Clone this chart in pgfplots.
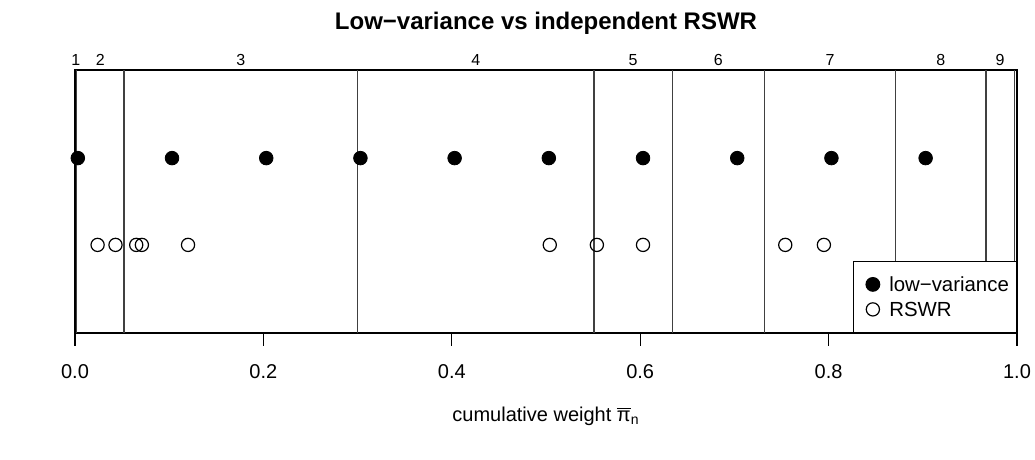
\documentclass[border=0pt]{standalone}
\usepackage{fontspec}
\setmainfont{Liberation Sans}
\usepackage{pgfplots}
\pgfplotsset{compat=1.18}

\begin{document}
\begin{tikzpicture}
\begin{axis}[
  at={(0,0)}, anchor=south west,
  scale only axis, width=471pt, height=131.5pt,
  xmin=0, xmax=1, ymin=0, ymax=1,
  ytick=\empty,
  xtick={0,0.2,0.4,0.6,0.8,1},
  xticklabels={0.0,0.2,0.4,0.6,0.8,1.0},
  xtick pos=bottom,
  xtick align=outside,
  xmajorticks=true,
  major tick length=6.3pt,
  xtick style={draw=black, line width=0.6pt},
  axis line style={black, line width=0.6pt},
  xticklabel style={font=\fontsize{10}{12}\selectfont, anchor=base, yshift=-16.35pt},
  xlabel={cumulative weight \(\overline{\hbox{π}}_{\hbox{\fontsize{7}{8}\selectfont n}}\)},
  xlabel style={font=\fontsize{10}{12}\selectfont, at={(axis description cs:0.5,0)},
    anchor=base, yshift=-44.5pt},
  title={Low−variance vs independent RSWR},
  title style={font=\bfseries\fontsize{12}{14}\selectfont, at={(axis description cs:0.5,1)},
    anchor=base, yshift=14.35pt},
  clip=false,
  legend style={at={(1,0)}, anchor=south east, draw=black, line width=0.6pt,
    font=\fontsize{10.2}{12}\selectfont, inner xsep=3.75pt, inner ysep=7pt,
    row sep=3.5pt, column sep=4.8pt,
    nodes={inner sep=0pt, text height=8.2pt, text depth=0.8pt}},
  legend cell align=left,
  legend image code/.code={\path (-5.45pt,0pt); \draw[#1] plot coordinates {(0pt,0pt)};},
]
% interval boundaries
\addplot[ycomb, no marks, black!75, line width=0.6pt, forget plot] coordinates {
  (0.002,1) (0.052,1) (0.300,1) (0.551,1) (0.634,1) (0.732,1) (0.871,1) (0.967,1) (0.997,1)};
% interval numbers
\addplot[only marks, mark=none, forget plot, nodes near coords, point meta=explicit symbolic,
  every node near coord/.style={anchor=south, inner sep=0pt, yshift=2.2pt, font=\fontsize{8}{10}\selectfont}]
  coordinates {(0.001,1)[1] (0.027,1)[2] (0.176,1)[3] (0.4255,1)[4] (0.5925,1)[5]
    (0.683,1)[6] (0.8015,1)[7] (0.919,1)[8] (0.982,1)[9]};
\addplot[only marks, mark=*, mark size=3.4pt, mark options={fill=black, draw=black}]
  coordinates {(0.003,0.665) (0.103,0.665) (0.203,0.665) (0.303,0.665) (0.403,0.665)
    (0.503,0.665) (0.603,0.665) (0.703,0.665) (0.803,0.665) (0.903,0.665)};
\addlegendentry{low−variance}
\addplot[only marks, mark=o, mark size=3.3pt, mark options={draw=black, line width=0.6pt}]
  coordinates {(0.024,0.335) (0.043,0.335) (0.065,0.335) (0.071,0.335) (0.120,0.335)
    (0.504,0.335) (0.554,0.335) (0.603,0.335) (0.754,0.335) (0.795,0.335)};
\addlegendentry{RSWR}
\end{axis}
\pgfresetboundingbox
\path[use as bounding box] (-37.5pt,-63.5pt) rectangle (480pt,166.5pt);
\end{tikzpicture}
\end{document}
